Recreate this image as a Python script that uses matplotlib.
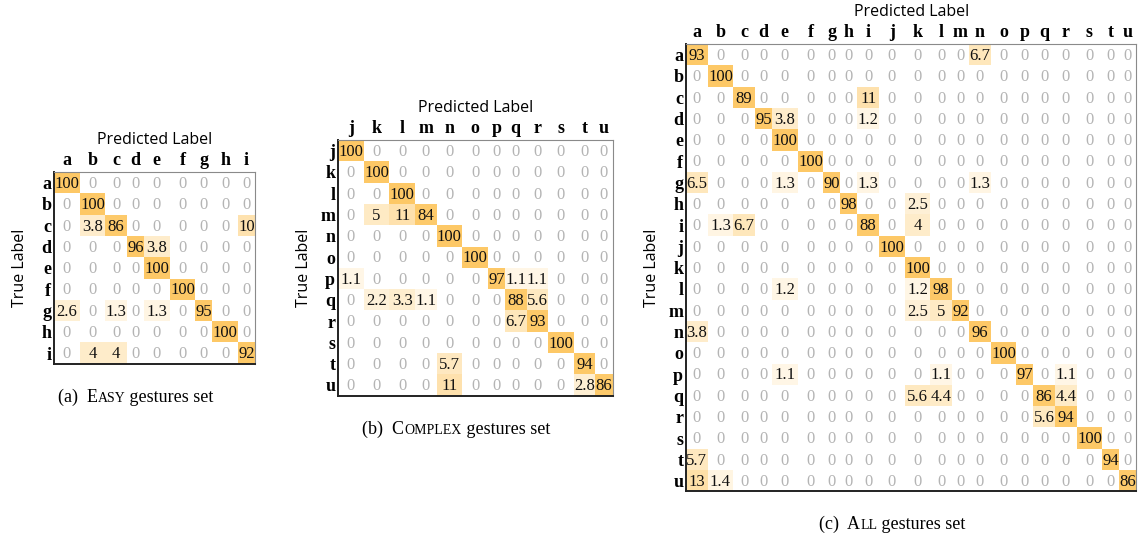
import numpy as np
import matplotlib
matplotlib.use("Agg")
import matplotlib.pyplot as plt
from matplotlib.colors import LinearSegmentedColormap, FuncNorm

# Easy gestures set
easy_labels = list("abcdefghi")
easy_values = [
    [100, 0, 0, 0, 0, 0, 0, 0, 0],
    [0, 100, 0, 0, 0, 0, 0, 0, 0],
    [0, 3.8, 86, 0, 0, 0, 0, 0, 10],
    [0, 0, 0, 96, 3.8, 0, 0, 0, 0],
    [0, 0, 0, 0, 100, 0, 0, 0, 0],
    [0, 0, 0, 0, 0, 100, 0, 0, 0],
    [2.6, 0, 1.3, 0, 1.3, 0, 95, 0, 0],
    [0, 0, 0, 0, 0, 0, 0, 100, 0],
    [0, 4, 4, 0, 0, 0, 0, 0, 92],
]

# Complex gestures set
complex_labels = list("jklmnopqrstu")
complex_values = [
    [100, 0, 0, 0, 0, 0, 0, 0, 0, 0, 0, 0],
    [0, 100, 0, 0, 0, 0, 0, 0, 0, 0, 0, 0],
    [0, 0, 100, 0, 0, 0, 0, 0, 0, 0, 0, 0],
    [0, 5, 11, 84, 0, 0, 0, 0, 0, 0, 0, 0],
    [0, 0, 0, 0, 100, 0, 0, 0, 0, 0, 0, 0],
    [0, 0, 0, 0, 0, 100, 0, 0, 0, 0, 0, 0],
    [1.1, 0, 0, 0, 0, 0, 97, 1.1, 1.1, 0, 0, 0],
    [0, 2.2, 3.3, 1.1, 0, 0, 0, 88, 5.6, 0, 0, 0],
    [0, 0, 0, 0, 0, 0, 0, 6.7, 93, 0, 0, 0],
    [0, 0, 0, 0, 0, 0, 0, 0, 0, 100, 0, 0],
    [0, 0, 0, 0, 5.7, 0, 0, 0, 0, 0, 94, 0],
    [0, 0, 0, 0, 11, 0, 0, 0, 0, 0, 2.8, 86],
]

# All gestures set
all_labels = list("abcdefghijklmnopqrstu")
all_values = [
    #a    b    c    d    e    f    g   h   i    j    k    l    m   n    o    p   q    r    s    t   u
    [93,  0,   0,   0,   0,   0,   0,  0,  0,   0,   0,   0,   0,  6.7, 0,   0,  0,   0,   0,   0,  0],
    [0,   100, 0,   0,   0,   0,   0,  0,  0,   0,   0,   0,   0,  0,   0,   0,  0,   0,   0,   0,  0],
    [0,   0,   89,  0,   0,   0,   0,  0,  11,  0,   0,   0,   0,  0,   0,   0,  0,   0,   0,   0,  0],
    [0,   0,   0,   95,  3.8, 0,   0,  0,  1.2, 0,   0,   0,   0,  0,   0,   0,  0,   0,   0,   0,  0],
    [0,   0,   0,   0,   100, 0,   0,  0,  0,   0,   0,   0,   0,  0,   0,   0,  0,   0,   0,   0,  0],
    [0,   0,   0,   0,   0,   100, 0,  0,  0,   0,   0,   0,   0,  0,   0,   0,  0,   0,   0,   0,  0],
    [6.5, 0,   0,   0,   1.3, 0,   90, 0,  1.3, 0,   0,   0,   0,  1.3, 0,   0,  0,   0,   0,   0,  0],
    [0,   0,   0,   0,   0,   0,   0,  98, 0,   0,   2.5, 0,   0,  0,   0,   0,  0,   0,   0,   0,  0],
    [0,   1.3, 6.7, 0,   0,   0,   0,  0,  88,  0,   4,   0,   0,  0,   0,   0,  0,   0,   0,   0,  0],
    [0,   0,   0,   0,   0,   0,   0,  0,  0,   100, 0,   0,   0,  0,   0,   0,  0,   0,   0,   0,  0],
    [0,   0,   0,   0,   0,   0,   0,  0,  0,   0,   100, 0,   0,  0,   0,   0,  0,   0,   0,   0,  0],
    [0,   0,   0,   0,   1.2, 0,   0,  0,  0,   0,   1.2, 98,  0,  0,   0,   0,  0,   0,   0,   0,  0],
    [0,   0,   0,   0,   0,   0,   0,  0,  0,   0,   2.5, 5,   92, 0,   0,   0,  0,   0,   0,   0,  0],
    [3.8, 0,   0,   0,   0,   0,   0,  0,  0,   0,   0,   0,   0,  96,  0,   0,  0,   0,   0,   0,  0],
    [0,   0,   0,   0,   0,   0,   0,  0,  0,   0,   0,   0,   0,  0,   100, 0,  0,   0,   0,   0,  0],
    [0,   0,   0,   0,   1.1, 0,   0,  0,  0,   0,   0,   1.1, 0,  0,   0,   97, 0,   1.1, 0,   0,  0],
    [0,   0,   0,   0,   0,   0,   0,  0,  0,   0,   5.6, 4.4, 0,  0,   0,   0,  86,  4.4, 0,   0,  0],
    [0,   0,   0,   0,   0,   0,   0,  0,  0,   0,   0,   0,   0,  0,   0,   0,  5.6, 94,  0,   0,  0],
    [0,   0,   0,   0,   0,   0,   0,  0,  0,   0,   0,   0,   0,  0,   0,   0,  0,   0,   100, 0,  0],
    [5.7, 0,   0,   0,   0,   0,   0,  0,  0,   0,   0,   0,   0,  0,   0,   0,  0,   0,   0,   94, 0],
    [13,  1.4, 0,   0,   0,   0,   0,  0,  0,   0,   0,   0,   0,  0,   0,   0,  0,   0,   0,   0,  86],
]

W, H = 1140, 538
fig = plt.figure(figsize=(W / 100, H / 100), dpi=100)

# layout in pixels: columns are as wide as their widest number
DIGIT_PX = 8.55
DOT_PX = 4.5
ROW_PX = 21.3

SERIF = "Liberation Serif"
SANS = "Open Sans"

cmap = LinearSegmentedColormap.from_list("wo", ["#ffffff", "#fdc866"])
norm = FuncNorm((np.log1p, np.expm1), vmin=0, vmax=100)


def fmt(v):
    return str(int(v)) if float(v).is_integer() else f"{v:.1f}"


def text_px(s):
    return sum(DOT_PX if c == "." else DIGIT_PX for c in s)


def caption(cx, cy, parts):
    # parts: (text, size) drawn one after another on a shared baseline
    renderer = fig.canvas.get_renderer()
    texts = []
    total = 0
    for s, size in parts:
        t = fig.text(0, 1 - cy / H, s, fontsize=size, family=SERIF, va="baseline", ha="left")
        w = t.get_window_extent(renderer).width
        texts.append((t, w))
        total += w
    x = cx - total / 2
    for t, w in texts:
        t.set_x(x / W)
        x += w


def draw_matrix(values, labels, left, top, cap_parts):
    vals = np.array(values, dtype=float)
    n = len(labels)
    col_w = [max(text_px(fmt(v)) for v in vals[:, j]) for j in range(n)]
    xedges = np.concatenate([[0], np.cumsum(col_w)])
    width = xedges[-1]
    height = n * ROW_PX
    ax = fig.add_axes([left / W, 1 - (top + height) / H, width / W, height / H])
    ax.pcolormesh(xedges, np.arange(n + 1), vals, cmap=cmap, norm=norm)
    ax.set_xlim(0, width)
    ax.set_ylim(n, 0)
    centers = (xedges[:-1] + xedges[1:]) / 2

    for i in range(n):
        for j in range(n):
            v = vals[i, j]
            ax.text(centers[j], i + 0.56, fmt(v), ha="center", va="center",
                    fontsize=12, family=SERIF,
                    color="#b4b4b4" if v == 0 else "#111111")

    ax.xaxis.tick_top()
    ax.set_xticks(centers)
    ax.set_xticklabels(labels, fontsize=13, family=SERIF, fontweight="bold")
    ax.set_yticks(np.arange(n) + 0.5)
    ax.set_yticklabels(labels, fontsize=13, family=SERIF, fontweight="bold")
    ax.tick_params(length=0, pad=2)

    for side in ["top", "right"]:
        ax.spines[side].set_color("#8a8a8a")
        ax.spines[side].set_linewidth(0.8)
    for side in ["left", "bottom"]:
        ax.spines[side].set_color("#222222")
        ax.spines[side].set_linewidth(1.4)

    ax.annotate("Predicted Label", xy=(0.5, 1), xycoords="axes fraction",
                xytext=(0, 32 * 0.72), textcoords="offset points",
                ha="center", va="center", fontsize=11.5, family=SANS)
    ax.annotate("True Label", xy=(0, 0.5), xycoords="axes fraction",
                xytext=(-34 * 0.72, 0), textcoords="offset points",
                ha="center", va="center", rotation=90, fontsize=11.5, family=SANS)

    right = left + width
    caption((left - 38 + right) / 2, top + height + 38, cap_parts)


draw_matrix(easy_values, easy_labels, 54, 172,
            [("(a)  E", 13), ("ASY", 10), (" gestures set", 13)])
draw_matrix(complex_values, complex_labels, 338, 140,
            [("(b)  C", 13), ("OMPLEX", 10), (" gestures set", 13)])
draw_matrix(all_values, all_labels, 686, 44,
            [("(c)  A", 13), ("LL", 10), (" gestures set", 13)])

fig.savefig("out.png", dpi=100)
